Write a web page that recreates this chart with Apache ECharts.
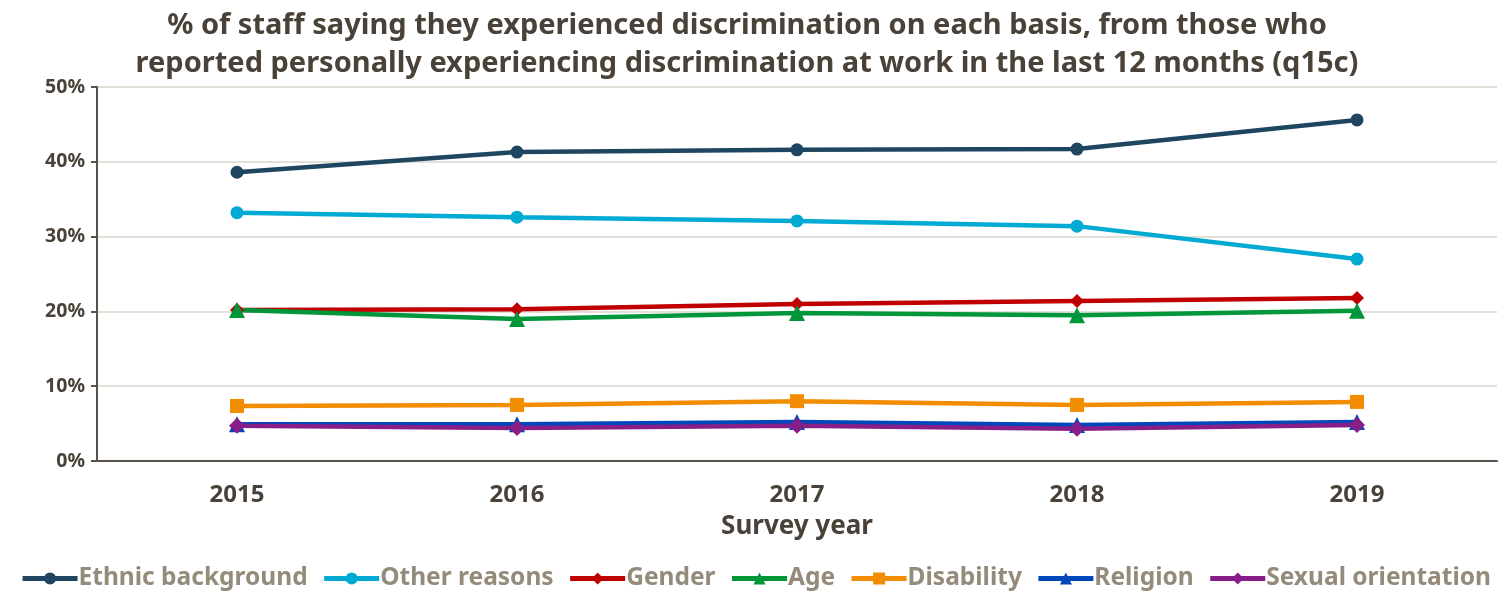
<!DOCTYPE html>
<html><head><meta charset="utf-8">
<script src="https://cdn.jsdelivr.net/npm/echarts@6/dist/echarts.min.js"></script>
<style>html,body{margin:0;padding:0;background:#fff}#c{width:1511px;height:592px}</style>
</head><body><div id="c"></div>
<script>
const years = ['2015','2016','2017','2018','2019'];
const ethnic = [38.6, 41.3, 41.6, 41.7, 45.6];
const otherReasons = [33.2, 32.6, 32.1, 31.4, 27.0];
const gender = [20.2, 20.3, 21.0, 21.4, 21.8];
const age = [20.2, 19.0, 19.8, 19.5, 20.1];
const disability = [7.35, 7.5, 8.0, 7.5, 7.9];
const religion = [4.9, 4.9, 5.2, 4.8, 5.2];
const sexualOrientation = [4.7, 4.4, 4.7, 4.3, 4.8];
const yTicks = [0, 10, 20, 30, 40, 50];

const FONT = 'Noto Sans';
const dark = '#4a4238';
function s(name, data, color, symbol, size) {
  return {name, type:'line', data, symbol, symbolSize:size,
    lineStyle:{color, width:4.5}, itemStyle:{color}, z:3};
}
const chart = echarts.init(document.getElementById('c'));
chart.setOption({
  animation:false,
  title:{text:'% of staff saying they experienced discrimination on each basis, from those who\nreported personally experiencing discrimination at work in the last 12 months (q15c)',
    left:742, textAlign:'center', top:2,
    textStyle:{fontFamily:FONT, fontWeight:'bold', fontSize:29, color:dark, lineHeight:38}},
  grid:{left:97, right:14, top:87, bottom:131},
  xAxis:{type:'category', data:years, boundaryGap:true,
    name:'Survey year', nameLocation:'middle', nameGap:53,
    nameTextStyle:{fontFamily:FONT, fontWeight:'bold', fontSize:26, color:dark},
    axisLine:{lineStyle:{color:'#595247', width:2}},
    axisTick:{show:false},
    axisLabel:{fontFamily:FONT, fontWeight:'bold', fontSize:24, color:dark, margin:22}},
  yAxis:{type:'value', min:0, max:50, interval:10,
    axisLine:{show:true, lineStyle:{color:'#595247', width:2}},
    axisTick:{show:true, length:6, lineStyle:{color:'#595247', width:2}},
    splitLine:{lineStyle:{color:'#e3e0da', width:2}},
    axisLabel:{fontFamily:FONT, fontWeight:'bold', fontSize:19.5, color:dark, margin:12,
      formatter:v=> yTicks.includes(v) ? v+'%' : ''}},
  legend:{top:561, left:'center', itemWidth:55, itemHeight:15, itemGap:14,
    lineStyle:{width:5},
    textStyle:{fontFamily:FONT, fontWeight:'bold', fontSize:24.5, color:'#948b7a', padding:[0,0,0,-4]}},
  series:[
    s('Ethnic background', ethnic, '#1f4660', 'circle', 13),
    s('Other reasons', otherReasons, '#00aad2', 'circle', 13),
    s('Gender', gender, '#c00000', 'diamond', 14),
    s('Age', age, '#009639', 'triangle', 16),
    s('Disability', disability, '#f28c00', 'rect', 14),
    s('Religion', religion, '#0047bb', 'triangle', 16),
    s('Sexual orientation', sexualOrientation, '#881e88', 'diamond', 16)
  ]
});
</script></body></html>
